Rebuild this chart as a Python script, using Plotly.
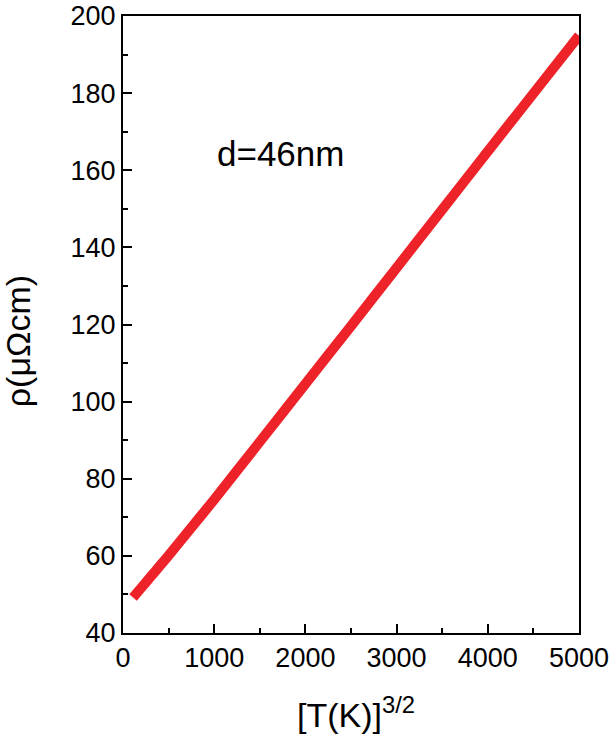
import plotly.graph_objects as go

# Data
t32 = [110, 200, 300, 400, 500, 700, 1000, 1500, 2000, 2500, 3000, 3500, 4000, 4500, 5000]
rho = [49.2, 51.7, 54.5, 57.3, 60.1, 65.9, 74.6, 89.6, 104.6, 119.6, 134.7, 149.8, 164.9, 179.9, 194.9]

x_ticks = [0, 1000, 2000, 3000, 4000, 5000]
y_ticks = [40, 60, 80, 100, 120, 140, 160, 180, 200]
label = "d=46nm"

FONT = "Liberation Sans, Arial, sans-serif"
RED = "#ee2329"

fig = go.Figure()
fig.add_trace(go.Scatter(
    x=t32, y=rho, mode="lines",
    line=dict(color=RED, width=10, shape="spline", smoothing=0.6),
    showlegend=False,
))

axis_common = dict(
    showline=True, linecolor="black", linewidth=2, mirror=True,
    ticks="inside", ticklen=9, tickwidth=1.5, tickcolor="black",
    showgrid=False, zeroline=False, automargin=False,
    ticklabeloverflow="allow",
    tickfont=dict(family=FONT, size=27, color="black"),
)

fig.update_xaxes(
    range=[0, 5000], tickvals=x_ticks, ticktext=[str(v) for v in x_ticks],
    minor=dict(ticks="inside", ticklen=5, tickwidth=1.5, tickcolor="black", dtick=500, showgrid=False),
    **axis_common,
)
fig.update_yaxes(
    range=[40, 200], tickvals=y_ticks, ticktext=[str(v) for v in y_ticks],
    minor=dict(ticks="inside", ticklen=5, tickwidth=1.5, tickcolor="black", dtick=10, showgrid=False),
    **axis_common,
)

fig.add_annotation(
    x=1010, y=164.4, xref="x", yref="y", text=label, showarrow=False,
    xanchor="left", yanchor="middle",
    font=dict(family=FONT, size=35, color="black"),
)
fig.add_annotation(
    x=0.511, y=-0.129, xref="paper", yref="paper",
    text="[T(K)]<sup>3/2</sup>", showarrow=False,
    xanchor="center", yanchor="middle",
    font=dict(family=FONT, size=34, color="black"),
)
fig.add_annotation(
    x=-0.23, y=0.473, xref="paper", yref="paper",
    text="ρ(μΩcm)", showarrow=False, textangle=-90,
    xanchor="center", yanchor="middle",
    font=dict(family=FONT, size=34, color="black"),
)

fig.update_layout(
    width=612, height=739,
    margin=dict(l=123, r=33, t=16, b=106),
    paper_bgcolor="white", plot_bgcolor="white",
    font=dict(family=FONT, color="black"),
)

fig.write_html("out.html", config={"displayModeBar": False},
               post_script="document.body.style.margin='0';")
